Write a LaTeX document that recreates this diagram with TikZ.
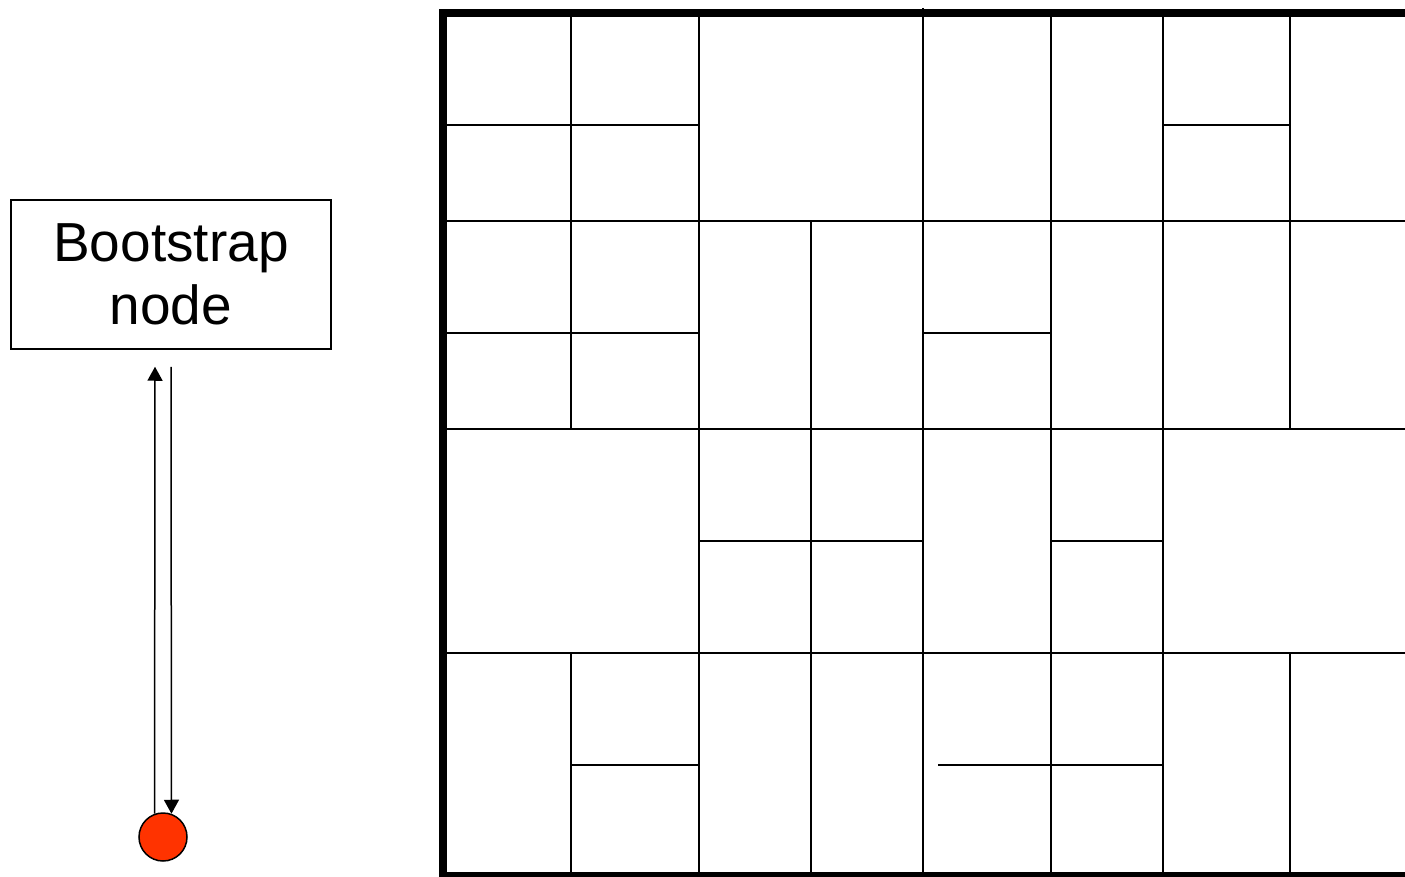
\documentclass[tikz,border=0pt]{standalone}
\usepackage{fontspec}
\setmainfont{Liberation Sans}
\usepackage{tikz}
\usetikzlibrary{arrows.meta, positioning}

\definecolor{peerred}{HTML}{FF3300}

\begin{document}
\begin{tikzpicture}[x=1pt, y=-1pt, >={Triangle[length=14pt, width=15pt]},
    zone/.style={line width=2pt},
    frame/.style={line width=7.5pt},
    link/.style={line width=1.5pt}]
    \useasboundingbox (0,0) rectangle (1405,877);

    % Nút bootstrap và nút mới
    \node[draw, line width=1.5pt, minimum width=320pt, minimum height=149pt,
          align=center, font=\fontsize{55}{63}\selectfont] (boot) at (171,274.5)
          {Bootstrap\\node};
    \node[circle, draw, line width=1.5pt, fill=peerred, minimum size=48pt,
          inner sep=0pt] (peer) at (163,837) {};

    % Trao đổi giữa hai nút
    \draw[link, ->] (peer.110) -- ([xshift=-16pt, yshift=-17pt]boot.south);
    \draw[link, ->] ([yshift=-17pt]boot.south) -- (peer.70);

    % Các vùng CAN
    \foreach \y in {221,429,653}
        \draw[zone] (443,\y) -- (1405,\y);
    \foreach \x in {699,1163}
        \draw[zone] (\x,13) -- (\x,876);
    \draw[zone] (923,8) -- (923,876);
    \draw[zone] (1051,13) -- (1051,876);
    \draw[zone] (811,221) -- (811,876);
    \foreach \x in {571,1290} {
        \draw[zone] (\x,13) -- (\x,429);
        \draw[zone] (\x,653) -- (\x,876);
    }
    \draw[zone] (443,125) -- (699,125);
    \draw[zone] (1163,125) -- (1290,125);
    \draw[zone] (443,333) -- (699,333);
    \draw[zone] (923,333) -- (1051,333);
    \draw[zone] (699,541) -- (923,541);
    \draw[zone] (1051,541) -- (1163,541);
    \draw[zone] (571,765) -- (699,765);
    \draw[zone] (938,765) -- (1163,765);

    % Khung ngoài
    \draw[frame] (1405,13) -- (443,13) -- (443,876) -- (1405,876);
\end{tikzpicture}
\end{document}
